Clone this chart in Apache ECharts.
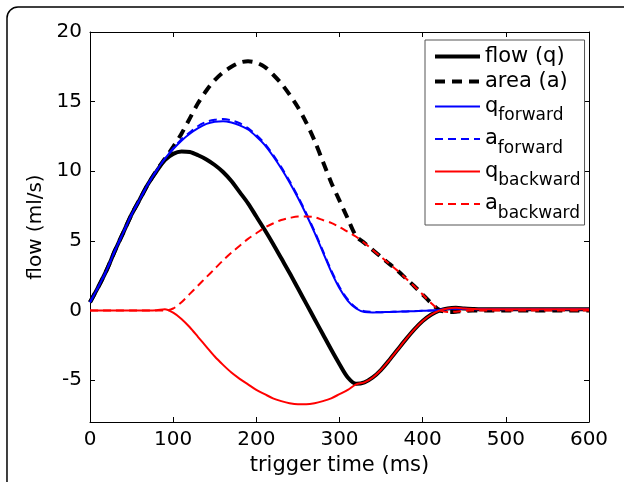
<!DOCTYPE html>
<html>
<head>
<meta charset="utf-8">
<script src="https://cdn.jsdelivr.net/npm/echarts@6/dist/echarts.min.js"></script>
<style>html,body{margin:0;padding:0;background:#fff}#c{width:624px;height:482px}</style>
</head>
<body>
<div id="c"></div>
<script>
// trigger time (ms)
var time = [0,10,20,30,40,50,60,70,80,90,100,110,120,130,140,150,160,170,180,190,200,210,220,230,240,250,260,270,280,290,300,310,320,330,340,350,360,370,380,390,400,410,420,430,440,450,460,470,480,490,500,510,520,530,540,550,560,570,580,590,600];
var flowQ = [0.6,1.7,2.9,4.3,5.6,6.9,8.0,9.1,10.0,10.8,11.25,11.42,11.38,11.15,10.85,10.45,9.95,9.3,8.5,7.7,6.75,5.8,4.8,3.75,2.7,1.6,0.5,-0.6,-1.7,-2.8,-3.85,-4.8,-5.25,-5.15,-4.8,-4.25,-3.55,-2.8,-2.05,-1.35,-0.75,-0.3,0.0,0.15,0.2,0.15,0.12,0.1,0.1,0.1,0.1,0.1,0.1,0.1,0.1,0.1,0.1,0.1,0.1,0.1,0.1];
var areaA = [0.6,1.7,2.9,4.3,5.6,6.9,8.0,9.1,10.05,10.9,11.75,12.7,13.8,14.9,15.8,16.55,17.1,17.5,17.8,17.9,17.8,17.5,16.95,16.3,15.5,14.6,13.5,12.2,10.7,9.2,7.9,6.6,5.35,4.85,4.35,3.85,3.35,2.85,2.3,1.75,1.15,0.55,0.05,-0.1,-0.08,-0.03,0,0,0,0,0,0,0,0,0,0,0,0,0,0,0];
var qForward = [0.6,1.7,2.9,4.3,5.6,6.9,8.0,9.1,10.05,10.9,11.6,12.2,12.7,13.1,13.4,13.55,13.6,13.5,13.3,13.0,12.5,11.9,11.1,10.2,9.2,8.1,6.9,5.6,4.2,2.8,1.6,0.7,0.15,-0.1,-0.13,-0.12,-0.1,-0.08,-0.06,-0.04,-0.02,0.0,0.05,0.12,0.15,0.13,0.1,0.1,0.1,0.1,0.1,0.1,0.1,0.1,0.1,0.1,0.1,0.1,0.1,0.1,0.1];
var aForward = [0.6,1.7,2.9,4.3,5.6,6.9,8.0,9.1,10.05,10.9,11.65,12.3,12.8,13.25,13.55,13.7,13.75,13.65,13.45,13.1,12.6,12.0,11.2,10.3,9.3,8.2,7.0,5.7,4.3,2.9,1.7,0.8,0.2,-0.05,-0.1,-0.12,-0.1,-0.08,-0.06,-0.04,-0.02,0.0,0.05,0.12,0.15,0.13,0.1,0.1,0.1,0.1,0.1,0.1,0.1,0.1,0.1,0.1,0.1,0.1,0.1,0.1,0.1];
var qBackward = [0,0,0,0,0,0,0,0,0.02,0.1,-0.15,-0.6,-1.2,-1.9,-2.6,-3.3,-3.9,-4.45,-4.9,-5.3,-5.7,-6.0,-6.3,-6.5,-6.65,-6.72,-6.72,-6.65,-6.5,-6.3,-6.0,-5.7,-5.3,-5.15,-4.8,-4.25,-3.55,-2.8,-2.05,-1.35,-0.75,-0.3,0.0,0.15,0.2,0.15,0.12,0.1,0.1,0.1,0.1,0.1,0.1,0.1,0.1,0.1,0.1,0.1,0.1,0.1,0.1];
var aBackward = [0,0,0,0,0,0,0,0,0,0,0.15,0.6,1.2,1.8,2.4,3.0,3.6,4.15,4.65,5.15,5.55,5.95,6.25,6.5,6.65,6.75,6.75,6.7,6.5,6.3,6.0,5.65,5.3,4.85,4.35,3.85,3.35,2.85,2.3,1.75,1.15,0.55,0.05,-0.1,-0.08,-0.03,0,0,0,0,0,0,0,0,0,0,0,0,0,0,0];
var yTicks = [-5,0,5,10,15,20];
var seriesNames = ['flow (q)','area (a)','q_forward','a_forward','q_backward','a_backward'];

function pairs(v){ return time.map(function(t,i){ return [t, v[i]]; }); }

var FONT = 'DejaVu Sans';
var chart = echarts.init(document.getElementById('c'), null, {renderer:'canvas'});

function mkSeries(name, vals, color, width, type){
  return {name:name, type:'line', data:pairs(vals), symbol:'none', showSymbol:false, smooth:0.3,
    lineStyle:{color:color, width:width, type:type}, itemStyle:{color:color}, animation:false,
    emphasis:{disabled:true}};
}

var legendLabels = {
  'flow (q)':'{a|flow (q)}',
  'area (a)':'{a|area (a)}',
  'q_forward':'{m|q}{s|forward}',
  'a_forward':'{m|a}{s|forward}',
  'q_backward':'{m|q}{s|backward}',
  'a_backward':'{m|a}{s|backward}'
};

var option = {
  backgroundColor:'#fff',
  animation:false,
  textStyle:{fontFamily:FONT},
  grid:{left:90, right:35, top:32, bottom:60, containLabel:false},
  graphic:[{type:'rect', z:-1, shape:{x:7,y:7,width:640,height:600,r:11}, style:{fill:'none', stroke:'#000', lineWidth:1.5}, silent:true}],
  xAxis:[{type:'value', min:0, max:600, interval:100, position:'bottom',
      name:'trigger time (ms)', nameLocation:'middle', nameGap:31,
      nameTextStyle:{fontFamily:FONT, fontSize:21, color:'#000'},
      axisLine:{onZero:false, lineStyle:{color:'#000', width:1}},
      axisTick:{inside:true, length:5, lineStyle:{color:'#000'}},
      axisLabel:{fontFamily:FONT, fontSize:20, color:'#000', margin:8},
      splitLine:{show:false}},
    {type:'value', min:0, max:600, interval:100, position:'top',
      axisLine:{onZero:false, lineStyle:{color:'#000', width:1}},
      axisTick:{inside:true, length:5, lineStyle:{color:'#000'}},
      axisLabel:{show:false}, splitLine:{show:false}}],
  yAxis:[{type:'value', min:-8, max:20, position:'left',
      name:'flow (ml/s)', nameLocation:'middle', nameGap:42,
      nameTextStyle:{fontFamily:FONT, fontSize:20, color:'#000'},
      axisLine:{show:true, onZero:false, lineStyle:{color:'#000', width:1}},
      axisTick:{show:true, inside:true, length:5, customValues:yTicks, lineStyle:{color:'#000'}},
      axisLabel:{fontFamily:FONT, fontSize:20, color:'#000', margin:8, customValues:yTicks},
      splitLine:{show:false}},
    {type:'value', min:-8, max:20, position:'right',
      axisLine:{show:true, onZero:false, lineStyle:{color:'#000', width:1}},
      axisTick:{show:true, inside:true, length:5, customValues:yTicks, lineStyle:{color:'#000'}},
      axisLabel:{show:false}, splitLine:{show:false}}],
  legend:{
    orient:'vertical', left:425, top:40, itemGap:4, itemWidth:45, itemHeight:14,
    padding:[6,4,3,8], borderColor:'#555', borderWidth:1, backgroundColor:'#fff',
    selectedMode:false,
    formatter:function(n){ return legendLabels[n]; },
    textStyle:{fontFamily:FONT, color:'#000', rich:{
      a:{fontFamily:FONT, fontSize:21, lineHeight:26, color:'#000'},
      m:{fontFamily:FONT, fontSize:21, lineHeight:36, verticalAlign:'middle', color:'#000'},
      s:{fontFamily:FONT, fontSize:17, lineHeight:17, verticalAlign:'bottom', color:'#000'}
    }},
    itemStyle:{opacity:0},
    data:[
      {name:seriesNames[0], lineStyle:{width:4, type:'solid', color:'#000'}},
      {name:seriesNames[1], lineStyle:{width:4, type:[10,7], color:'#000'}},
      {name:seriesNames[2], lineStyle:{width:2, type:'solid', color:'#0000ff'}},
      {name:seriesNames[3], lineStyle:{width:2, type:[8,5], color:'#0000ff'}},
      {name:seriesNames[4], lineStyle:{width:2, type:'solid', color:'#ff0000'}},
      {name:seriesNames[5], lineStyle:{width:2, type:[8,5], color:'#ff0000'}}
    ]
  },
  series:[
    mkSeries(seriesNames[0], flowQ, '#000', 4, 'solid'),
    mkSeries(seriesNames[1], areaA, '#000', 4, [10,7]),
    mkSeries(seriesNames[2], qForward, '#0000ff', 2, 'solid'),
    mkSeries(seriesNames[3], aForward, '#0000ff', 2, [8,5]),
    mkSeries(seriesNames[4], qBackward, '#ff0000', 2, 'solid'),
    mkSeries(seriesNames[5], aBackward, '#ff0000', 2, [8,5])
  ]
};
chart.setOption(option);
</script>
</body>
</html>
